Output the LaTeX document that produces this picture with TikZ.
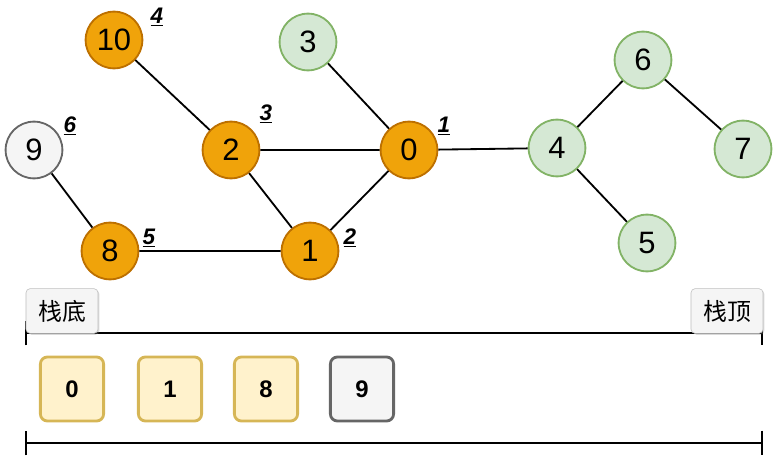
\documentclass[tikz,border=0pt]{standalone}
\usepackage{fontspec}
\setmainfont{Liberation Sans}
\newfontfamily\cjk{Noto Sans CJK SC}
\usetikzlibrary{shadows,arrows.meta}
\definecolor{orfill}{HTML}{F0A30A}
\definecolor{ordraw}{HTML}{BD7000}
\definecolor{grfill}{HTML}{D5E8D4}
\definecolor{grdraw}{HTML}{82B366}
\definecolor{gyfill}{HTML}{F5F5F5}
\definecolor{gydraw}{HTML}{666666}
\definecolor{yefill}{HTML}{FFF2CC}
\definecolor{yedraw}{HTML}{D6B656}
\tikzset{
  vert/.style={circle,minimum size=1.42cm,inner sep=0pt,line width=1.3pt,font=\fontsize{22}{22}\selectfont},
  seen/.style={vert,fill=orfill,draw=ordraw},
  fresh/.style={vert,fill=grfill,draw=grdraw},
  last/.style={vert,fill=gyfill,draw=gydraw},
  ord/.style={font=\fontsize{16}{16}\selectfont\bfseries\itshape},
  cell/.style={rounded corners=5pt,minimum width=1.58cm,minimum height=1.6cm,line width=2pt,font=\fontsize{17}{17}\selectfont\bfseries},
  tag/.style={draw=gray!50,fill=gyfill,rounded corners=3pt,drop shadow={opacity=0.3,shadow xshift=1pt,shadow yshift=-1pt},minimum width=1.8cm,minimum height=1.12cm,inner sep=1pt,font=\cjk\fontsize{17}{17}\selectfont},
  stackline/.style={line width=1.3pt,{Bar[width=0.62cm]}-{Bar[width=0.62cm]}}
}
\begin{document}
\begin{tikzpicture}[x=0.025cm,y=-0.025cm]
  \useasboundingbox (0,0) rectangle (779,459);
  % graph
  \node[seen]  (n10) at (114,40)  {10};
  \node[fresh] (n3)  at (308,42)  {3};
  \node[fresh] (n6)  at (643,60)  {6};
  \node[last]  (n9)  at (34,150)  {9};
  \node[seen]  (n2)  at (231,150) {2};
  \node[seen]  (n0)  at (409,150) {0};
  \node[fresh] (n4)  at (557,148) {4};
  \node[fresh] (n7)  at (743,149) {7};
  \node[seen]  (n8)  at (110,251) {8};
  \node[seen]  (n1)  at (310,251) {1};
  \node[fresh] (n5)  at (647,243) {5};
  \draw[line width=1.3pt] (n10) -- (n2) (n3) -- (n0) (n2) -- (n0) (n2) -- (n1)
    (n0) -- (n1) (n0) -- (n4) (n4) -- (n6) (n6) -- (n7) (n4) -- (n5)
    (n9) -- (n8) (n8) -- (n1);
  % visiting order
  \node[ord] (o1) at (444,126) {\underline{1}};
  \node[ord] (o2) at (350,238) {\underline{2}};
  \node[ord] (o3) at (266,114) {\underline{3}};
  \node[ord] (o4) at (157,17)  {\underline{4}};
  \node[ord] (o5) at (149,238) {\underline{5}};
  \node[ord] (o6) at (70,126)  {\underline{6}};
  % stack
  \coordinate (tl) at (25,333);
  \coordinate (tr) at (763,333);
  \coordinate (bl) at (25,443);
  \coordinate (br) at (763,443);
  \draw[stackline] (tl) -- (tr);
  \draw[stackline] (bl) -- (br);
  \node[tag] (bottom) at (62,311) {栈底};
  \node[tag] (top) at (727,311) {栈顶};
  \node[cell,fill=yefill,draw=yedraw] (s0) at (72,389)  {0};
  \node[cell,fill=yefill,draw=yedraw] (s1) at (170,389) {1};
  \node[cell,fill=yefill,draw=yedraw] (s2) at (266,389) {8};
  \node[cell,fill=gyfill,draw=gydraw] (s3) at (362,389) {9};
\end{tikzpicture}
\end{document}
